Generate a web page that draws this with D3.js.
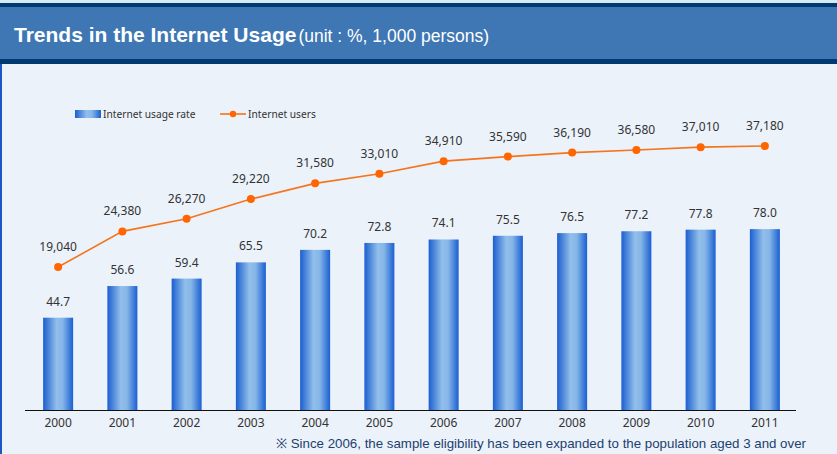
<!DOCTYPE html>
<html>
<head>
<meta charset="utf-8">
<script src="https://cdn.jsdelivr.net/npm/d3@7"></script>
<style>
  html, body { margin: 0; padding: 0; background: #ecf2fa; }
  svg { display: block; }
</style>
</head>
<body>
<svg id="chart" width="837" height="454"></svg>
<script>
// Internet usage in Korea, 2000–2011
const years = ["2000","2001","2002","2003","2004","2005","2006","2007","2008","2009","2010","2011"];
const usageRate = [44.7, 56.6, 59.4, 65.5, 70.2, 72.8, 74.1, 75.5, 76.5, 77.2, 77.8, 78.0];
const internetUsers = [19040, 24380, 26270, 29220, 31580, 33010, 34910, 35590, 36190, 36580, 37010, 37180];

const W = 837, H = 454;
const svg = d3.select("#chart");
const font = "'Noto Sans', 'Open Sans', sans-serif";

// page background
svg.append("rect").attr("width", W).attr("height", H).attr("fill", "#ecf2fa");
svg.append("rect").attr("width", W).attr("height", 4).attr("fill", "#d6ecf4");

// header band
svg.append("rect").attr("x", 0).attr("y", 3).attr("width", W).attr("height", 61).attr("fill", "#003a70");
svg.append("rect").attr("x", 0).attr("y", 7).attr("width", W).attr("height", 52).attr("fill", "#3e77b3");

// left border
svg.append("rect").attr("x", 0).attr("y", 64).attr("width", 2).attr("height", H - 64).attr("fill", "#1d55c4");

const title = svg.append("text")
  .attr("x", 14).attr("y", 42)
  .attr("fill", "#ffffff")
  .attr("font-family", "Arial, 'Liberation Sans', sans-serif");
title.append("tspan").attr("font-size", 21).attr("font-weight", "bold").text("Trends in the Internet Usage");
title.append("tspan").attr("font-size", 17.5).attr("dx", 2).text("(unit : %, 1,000 persons)");

// scales
const x = d3.scaleBand().domain(years).range([26, 797]).paddingInner(0.533).paddingOuter(0.2665);
const yBar = d3.scaleLinear().domain([10, 100]).range([410, 170.6]);
const yLine = d3.scaleLinear().domain([0, 40000]).range([394, 127.2]);

// bar gradient
const defs = svg.append("defs");
const grad = defs.append("linearGradient").attr("id", "barGrad").attr("x1", "0").attr("x2", "1").attr("y1", "0").attr("y2", "0");
grad.append("stop").attr("offset", "0%").attr("stop-color", "#1b5fd0");
grad.append("stop").attr("offset", "45%").attr("stop-color", "#92bfea");
grad.append("stop").attr("offset", "65%").attr("stop-color", "#86b6e8");
grad.append("stop").attr("offset", "100%").attr("stop-color", "#1a5fd2");

// bars
svg.append("g").selectAll("rect").data(years).join("rect")
  .attr("x", d => x(d))
  .attr("width", x.bandwidth())
  .attr("y", (d, i) => yBar(usageRate[i]))
  .attr("height", (d, i) => yBar(10) - yBar(usageRate[i]))
  .attr("fill", "url(#barGrad)");

// bar value labels
svg.append("g").selectAll("text").data(years).join("text")
  .attr("x", d => x(d) + x.bandwidth() / 2)
  .attr("y", (d, i) => yBar(usageRate[i]) - 12)
  .attr("text-anchor", "middle")
  .attr("font-family", font).attr("font-size", 12).attr("fill", "#333")
  .text((d, i) => usageRate[i].toFixed(1));

// x axis
const xAxis = svg.append("g").attr("transform", "translate(0,410)")
  .call(d3.axisBottom(x).tickSize(0).tickPadding(8));
xAxis.select(".domain").attr("d", "M25,0.5H796").attr("stroke", "#111").attr("stroke-width", 1);
xAxis.selectAll("text").attr("font-family", font).attr("font-size", 12).attr("fill", "#333");

// users line
const cx = d => x(d) + x.bandwidth() / 2;
const line = d3.line().x((d, i) => cx(years[i])).y(d => yLine(d));
svg.append("path").datum(internetUsers)
  .attr("d", line).attr("fill", "none")
  .attr("stroke", "#f5741c").attr("stroke-width", 1.6);
svg.append("g").selectAll("circle").data(internetUsers).join("circle")
  .attr("cx", (d, i) => cx(years[i]))
  .attr("cy", d => yLine(d))
  .attr("r", 4).attr("fill", "#ff6600");
svg.append("g").selectAll("text").data(internetUsers).join("text")
  .attr("x", (d, i) => cx(years[i]))
  .attr("y", d => yLine(d) - 16)
  .attr("text-anchor", "middle")
  .attr("font-family", font).attr("font-size", 12).attr("fill", "#333")
  .text(d => d3.format(",")(d));

// legend
const lg = svg.append("g");
lg.append("rect").attr("x", 75).attr("y", 110).attr("width", 26).attr("height", 8).attr("fill", "url(#barGrad)");
lg.append("text").attr("x", 103).attr("y", 118).attr("font-family", font).attr("font-size", 10.2).attr("fill", "#333").text("Internet usage rate");
lg.append("line").attr("x1", 220).attr("x2", 246).attr("y1", 114).attr("y2", 114).attr("stroke", "#f5741c").attr("stroke-width", 1.6);
lg.append("circle").attr("cx", 233).attr("cy", 114).attr("r", 3.2).attr("fill", "#ff6600");
lg.append("text").attr("x", 248).attr("y", 118).attr("font-family", font).attr("font-size", 10.2).attr("fill", "#333").text("Internet users");

// footnote
svg.append("text")
  .attr("x", 806).attr("y", 448).attr("text-anchor", "end")
  .attr("font-family", "Arial, 'Liberation Sans', sans-serif").attr("font-size", 13.3).attr("fill", "#1c3f6e")
  .text("※ Since 2006, the sample eligibility has been expanded to the population aged 3 and over");
</script>
</body>
</html>
